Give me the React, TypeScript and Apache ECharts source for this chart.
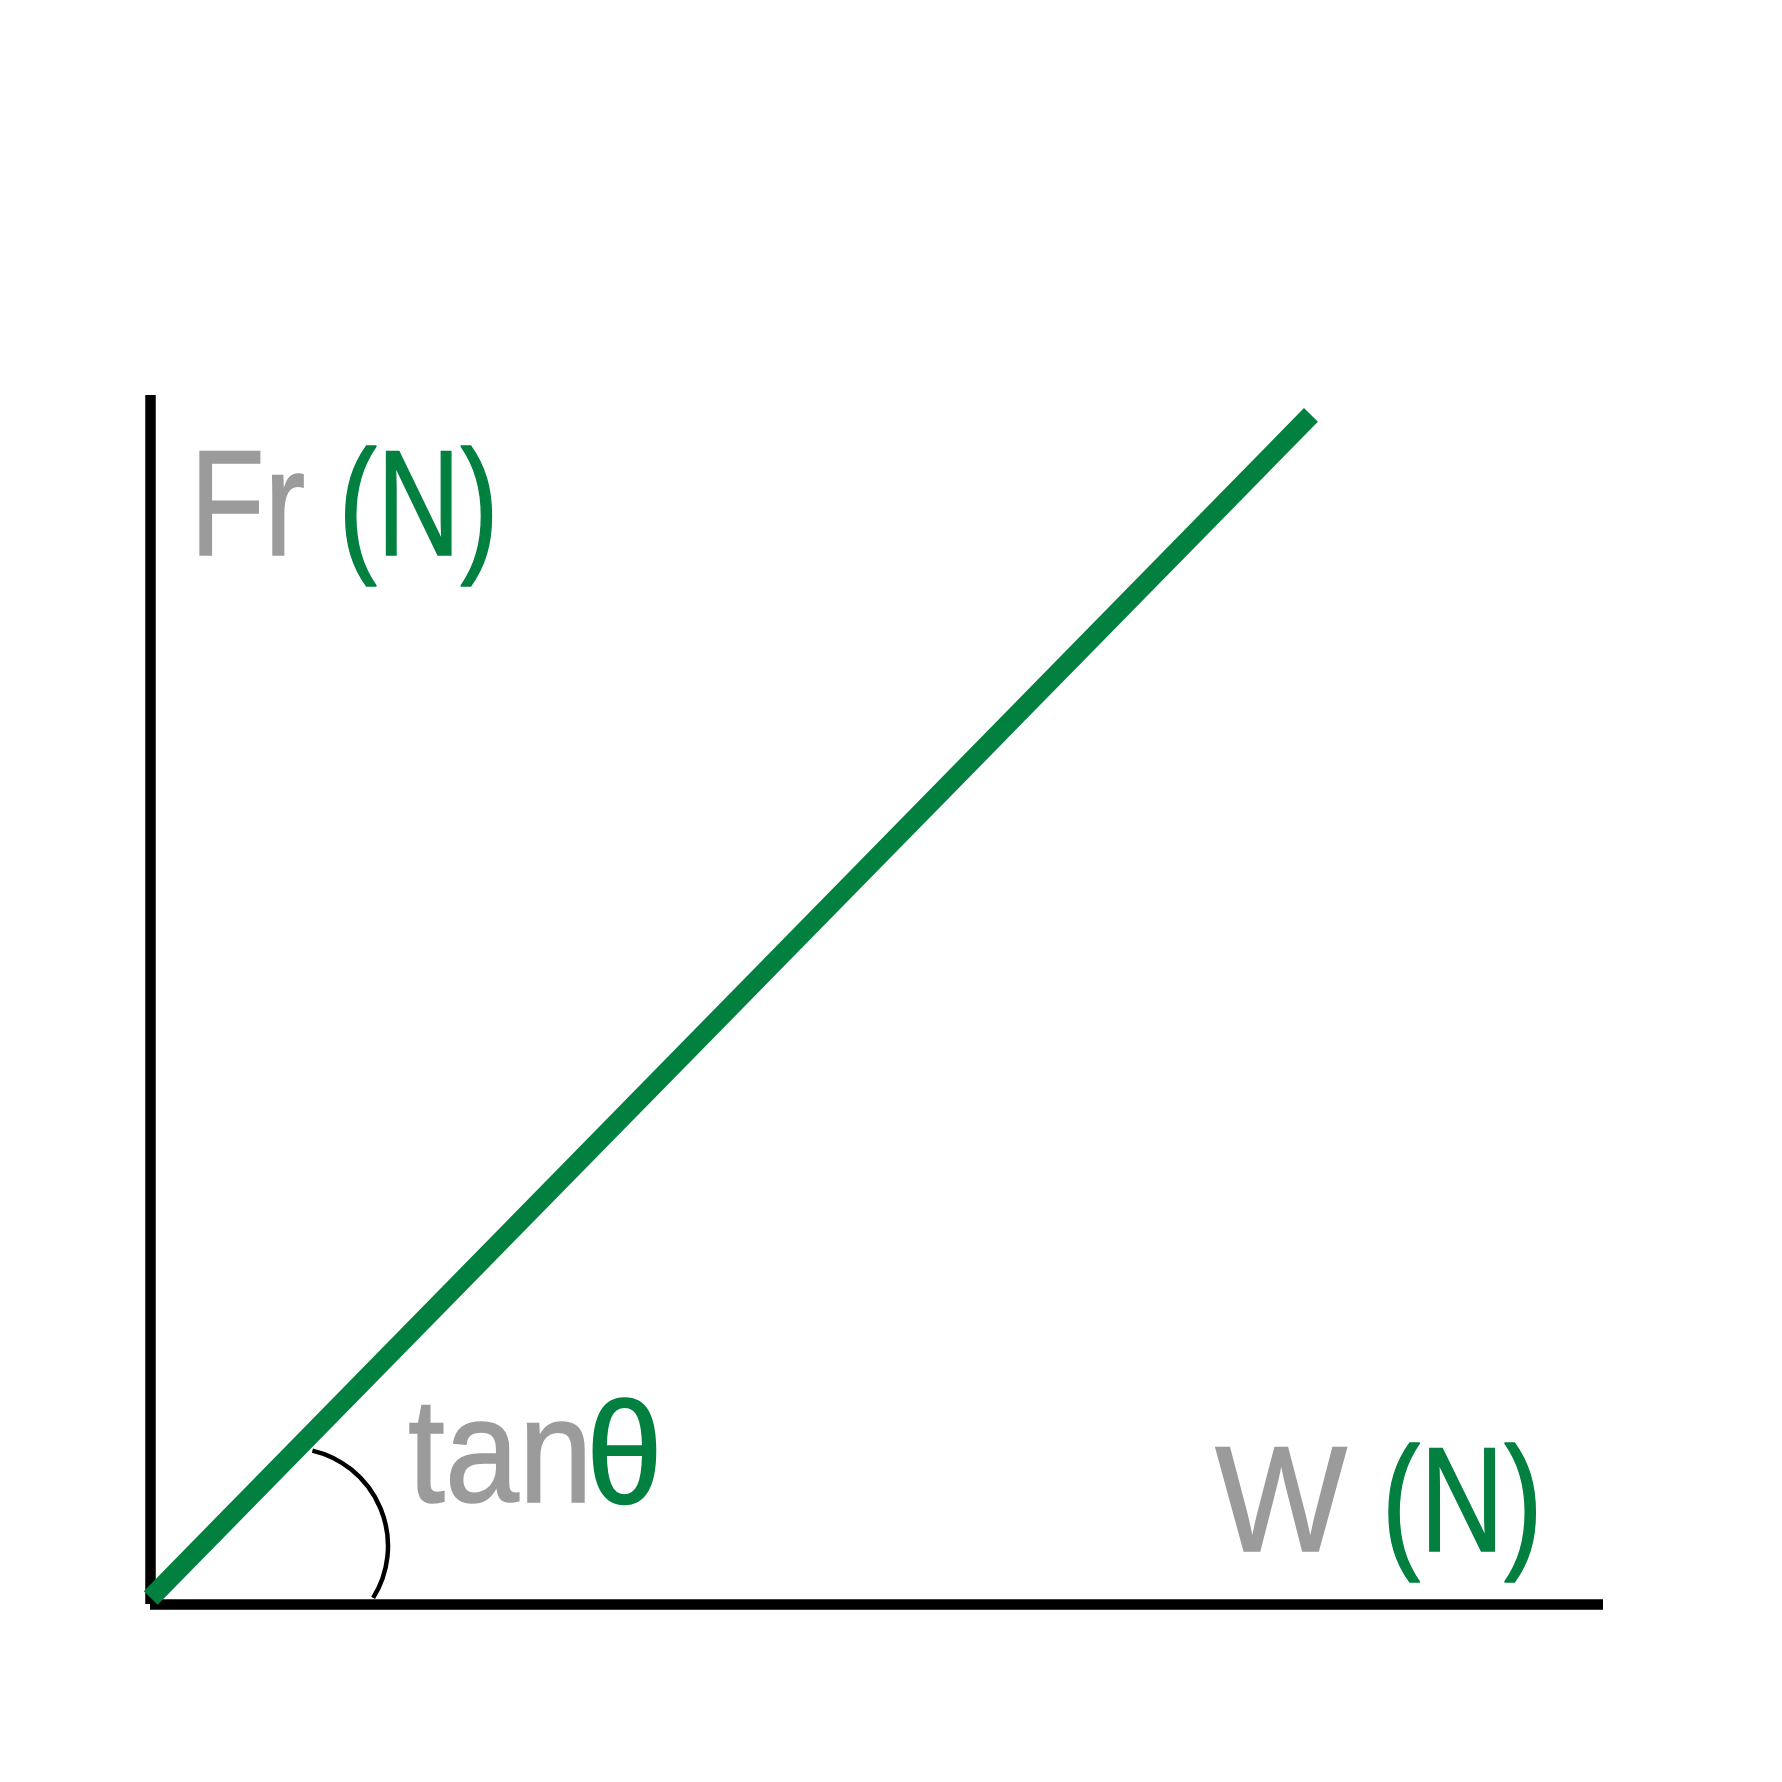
import React, { useEffect, useRef } from 'react';
import * as echarts from 'echarts';

// Conceptual straight line: friction force Fr against weight W (arbitrary units, 0–100 scale)
const weightW = [0.05, 79.9];
const frictionFr = [0.5, 98.35];

// Label texts (grey part, green part)
const yAxisLabel = ['Fr', '(N)'];
const xAxisLabel = ['W', '(N)'];
const slopeLabel = ['tan', 'θ'];

const GREY = '#9B9B9B';
const GREEN = '#01803F';
const FONT = 'Liberation Sans';

type Spec = {
  text: string;
  color: string;
  left: number;
  right: number;
  top: number;
  baseline?: number;
  bottom?: number;
  mode: 'cap' | 'ink';
};

export default function App() {
  const ref = useRef<HTMLDivElement>(null);

  useEffect(() => {
    document.body.style.margin = '0';
    const el = ref.current!;
    const chart = echarts.init(el, null, { renderer: 'svg' });

    const ctx = document.createElement('canvas').getContext('2d')!;
    const measure = (s: string, size: number) => {
      ctx.font = `${size}px "${FONT}"`;
      ctx.textBaseline = 'alphabetic';
      return ctx.measureText(s);
    };
    const hm = measure('H', 100);
    const capRatio = hm.actualBoundingBoxAscent / 100;
    const centralRatio =
      (hm as any).fontBoundingBoxAscent != null
        ? ((hm as any).fontBoundingBoxAscent - (hm as any).fontBoundingBoxDescent) / 200
        : 0.3465;

    const SW = 1.6; // stroke thickening
    const makeText = (spec: Spec) => {
      const top = spec.top + SW / 2;
      const left = spec.left + SW / 2;
      const right = spec.right - SW / 2;
      let size: number;
      let baseline: number;
      if (spec.mode === 'cap') {
        baseline = spec.baseline! - SW / 2;
        size = (baseline - top) / capRatio;
      } else {
        const bottom = spec.bottom! - SW / 2;
        const m0 = measure(spec.text, 100);
        size = (100 * (bottom - top)) / (m0.actualBoundingBoxAscent + m0.actualBoundingBoxDescent);
        baseline = top + (m0.actualBoundingBoxAscent * size) / 100;
      }
      const m = measure(spec.text, size);
      const inkW = m.actualBoundingBoxLeft + m.actualBoundingBoxRight;
      const sx = (right - left) / inkW;
      return {
        type: 'text',
        x: left + m.actualBoundingBoxLeft * sx,
        y: baseline - centralRatio * size,
        scaleX: sx,
        z: 10,
        style: {
          text: spec.text,
          fill: spec.color,
          stroke: spec.color,
          lineWidth: SW,
          fontSize: size,
          fontFamily: FONT,
          align: 'left',
          verticalAlign: 'middle',
        },
      };
    };

    const specs: Spec[] = [
      { text: yAxisLabel[0], color: GREY, left: 199, right: 304.5, top: 451, baseline: 556, mode: 'cap' },
      { text: yAxisLabel[1], color: GREEN, left: 344.7, right: 492.7, top: 450.7, baseline: 556, mode: 'cap' },
      { text: xAxisLabel[0], color: GREY, left: 1214.5, right: 1347.5, top: 1446.2, baseline: 1552, mode: 'cap' },
      { text: xAxisLabel[1], color: GREEN, left: 1388, right: 1536.7, top: 1448, baseline: 1552, mode: 'cap' },
      { text: slopeLabel[0], color: GREY, left: 409, right: 585.5, top: 1405, bottom: 1505, mode: 'ink' },
      { text: slopeLabel[1], color: GREEN, left: 592, right: 657, top: 1397, bottom: 1506, mode: 'ink' },
    ];

    const axisLineStyle = { color: '#000', width: 10.5, cap: 'butt' };
    const option: any = {
      animation: false,
      backgroundColor: '#ffffff',
      grid: { left: 150, top: 395, width: 1453, height: 1209, containLabel: false },
      xAxis: {
        type: 'value',
        min: 0,
        max: 100,
        axisLine: { show: true, onZero: false, lineStyle: axisLineStyle },
        axisTick: { show: false },
        axisLabel: { show: false },
        splitLine: { show: false },
      },
      yAxis: {
        type: 'value',
        min: 0,
        max: 100,
        axisLine: { show: true, onZero: false, lineStyle: axisLineStyle },
        axisTick: { show: false },
        axisLabel: { show: false },
        splitLine: { show: false },
      },
      series: [
        {
          type: 'line',
          data: weightW.map((w, i) => [w, frictionFr[i]]),
          symbol: 'none',
          clip: false,
          lineStyle: { color: GREEN, width: 19.5, cap: 'butt' },
          z: 3,
        },
      ],
      graphic: [
        {
          type: 'arc',
          shape: { cx: 290, cy: 1546, r: 98, startAngle: -1.34, endAngle: 0.558, clockwise: true },
          style: { stroke: '#000', lineWidth: 4.5, fill: 'none', lineCap: 'butt' },
          z: 5,
        },
        ...specs.map(makeText),
      ],
    };
    chart.setOption(option);
    return () => chart.dispose();
  }, []);

  return (
    <div
      ref={ref}
      style={{ position: 'absolute', left: 0, top: 0, width: 1782, height: 1782, background: '#fff' }}
    />
  );
}
